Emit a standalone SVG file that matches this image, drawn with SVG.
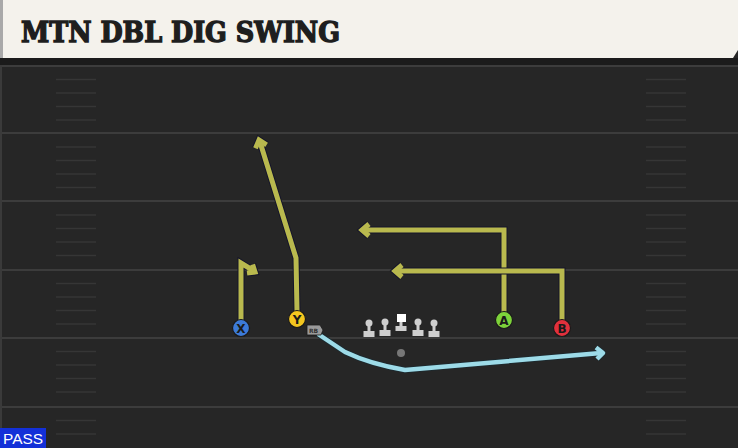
<svg xmlns="http://www.w3.org/2000/svg" width="738" height="448" viewBox="0 0 738 448">
<style>
.fl{stroke:#3c3c3c;stroke-width:2}
.hm{stroke:#363636;stroke-width:1.6}
.ro{fill:none;stroke:#15152a;stroke-width:7;stroke-linejoin:miter;stroke-linecap:butt}
.ry{fill:none;stroke:#b9b94e;stroke-width:5;stroke-linejoin:miter;stroke-linecap:butt}
.rb{fill:none;stroke:#9ddbe8;stroke-width:4.5;stroke-linejoin:round;stroke-linecap:butt}
.rbo{fill:none;stroke:#1b2a30;stroke-width:6;stroke-linejoin:round}
.pc{stroke:#1a1a1a;stroke-width:1.2}
.pl{font-family:"DejaVu Sans","Liberation Sans",sans-serif;font-weight:bold;font-size:12px;fill:#1a1a1a;text-anchor:middle}
.ol{fill:#cfcfcf}
</style>
<rect x="0" y="0" width="738" height="448" fill="#262626"/>
<g id="field">
<line class="fl" x1="0" y1="66" x2="738" y2="66"/>
<line class="fl" x1="0" y1="133" x2="738" y2="133"/>
<line class="fl" x1="0" y1="201" x2="738" y2="201"/>
<line class="fl" x1="0" y1="270" x2="738" y2="270"/>
<line class="fl" x1="0" y1="338" x2="738" y2="338"/>
<line class="fl" x1="0" y1="407" x2="738" y2="407"/>
<g id="hashes">
<path class="hm" d="M56 79.5h40M56 93h40M56 106.5h40M56 120h40M56 147h40M56 160.5h40M56 174h40M56 187.5h40M56 215h40M56 228.5h40M56 242h40M56 255.5h40M56 283.5h40M56 297h40M56 310.5h40M56 324h40M56 351.5h40M56 365h40M56 378.5h40M56 392h40M56 420.5h40M56 434h40"/>
<path class="hm" d="M646 79.5h40M646 93h40M646 106.5h40M646 120h40M646 147h40M646 160.5h40M646 174h40M646 187.5h40M646 215h40M646 228.5h40M646 242h40M646 255.5h40M646 283.5h40M646 297h40M646 310.5h40M646 324h40M646 351.5h40M646 365h40M646 378.5h40M646 392h40M646 420.5h40M646 434h40"/>
</g>
<rect x="0" y="60" width="2" height="388" fill="#3a3a3a"/>
</g>
<g id="header">
<rect x="0" y="58" width="738" height="7" fill="#1b1b1b"/>
<path d="M0 0H738V50L733 58H0Z" fill="#f4f2ec"/>
<rect x="0" y="0" width="3" height="58" fill="#a9a9a9"/>
<text x="21" y="42" font-family="'DejaVu Serif','Liberation Serif',serif" font-weight="bold" font-size="27" fill="#1e1e1e" stroke="#1e1e1e" stroke-width="1.4" stroke-linejoin="miter" textLength="319" lengthAdjust="spacingAndGlyphs">MTN DBL DIG SWING</text>
</g>
<g id="connectors">
<polyline class="ro" points="241,320 241,263 254,271"/>
<polyline class="ro" points="252.6,264.4 255,272 247,273"/>
<polyline class="ry" points="241,320 241,263 254,271"/>
<polyline class="ry" points="252.6,264.4 255,272 247,273"/>
<polyline class="ro" points="297,311 296,258 260,142"/>
<polyline class="ro" points="255.5,148.3 259,140 266.6,144.9"/>
<polyline class="ry" points="297,311 296,258 260,142"/>
<polyline class="ry" points="255.5,148.3 259,140 266.6,144.9"/>
<polyline class="ro" points="504,312 504,230 363,230"/>
<polyline class="ro" points="369,224 362,230 369,236"/>
<polyline class="ry" points="504,312 504,230 363,230"/>
<polyline class="ry" points="369,224 362,230 369,236"/>
<polyline class="ro" points="562,320 562,271 396,271"/>
<polyline class="ro" points="402,265 395,271 402,277"/>
<polyline class="ry" points="562,320 562,271 396,271"/>
<polyline class="ry" points="402,265 395,271 402,277"/>
<path class="rbo" d="M318,334 L345,352 Q370,364 405,370 L601,353"/>
<polyline class="rbo" points="596,347.5 603,353 597,359"/>
<path class="rb" d="M318,334 L345,352 Q370,364 405,370 L601,353"/>
<polyline class="rb" points="596,347.5 603,353 597,359"/>
</g>
<g id="X">
<circle class="pc" cx="241" cy="328" r="8.5" fill="#3c7ad8"/>
<text class="pl" x="241" y="332.5">X</text>
</g>
<g id="Y">
<circle class="pc" cx="297" cy="319" r="8.5" fill="#f4c61f"/>
<text class="pl" x="297" y="323.5">Y</text>
</g>
<g id="A">
<circle class="pc" cx="504" cy="320" r="8.5" fill="#7dd33a"/>
<text class="pl" x="504" y="324.5">A</text>
</g>
<g id="B">
<circle class="pc" cx="562" cy="328" r="8.5" fill="#e2303c"/>
<text class="pl" x="562" y="332.5">B</text>
</g>
<g id="RB">
<path d="M307 325H320L323 330L321 335H307Z" fill="#9a9a9a" stroke="#1a1a1a" stroke-width="0.8"/>
<text x="313.5" y="333" font-family="'DejaVu Sans',sans-serif" font-size="6" font-weight="bold" fill="#333" text-anchor="middle">RB</text>
</g>
<g id="OL">
<g class="ol">
<circle cx="369" cy="323" r="3.5"/><rect x="367.5" y="323" width="3" height="9"/><rect x="363.5" y="331" width="11" height="6"/>
<circle cx="385" cy="322" r="3.5"/><rect x="383.5" y="322" width="3" height="9"/><rect x="379.5" y="330" width="11" height="6"/>
<circle cx="418" cy="322" r="3.5"/><rect x="416.5" y="322" width="3" height="9"/><rect x="412.5" y="330" width="11" height="6"/>
<circle cx="434" cy="323" r="3.5"/><rect x="432.5" y="323" width="3" height="9"/><rect x="428.5" y="331" width="11" height="6"/>
<rect x="399.5" y="322" width="3" height="5"/><rect x="395.5" y="326" width="11" height="5"/>
</g>
<rect x="397" y="314" width="9" height="8" fill="#ffffff"/>
</g>
<g id="QB">
<circle cx="401" cy="353" r="4" fill="#777"/>
</g>
<g id="pass">
<rect x="0" y="428" width="46" height="20" fill="#1330d8"/>
<text x="3" y="444" font-family="'Liberation Sans',sans-serif" font-size="15" fill="#ffffff" textLength="40" lengthAdjust="spacingAndGlyphs">PASS</text>
</g>
</svg>
